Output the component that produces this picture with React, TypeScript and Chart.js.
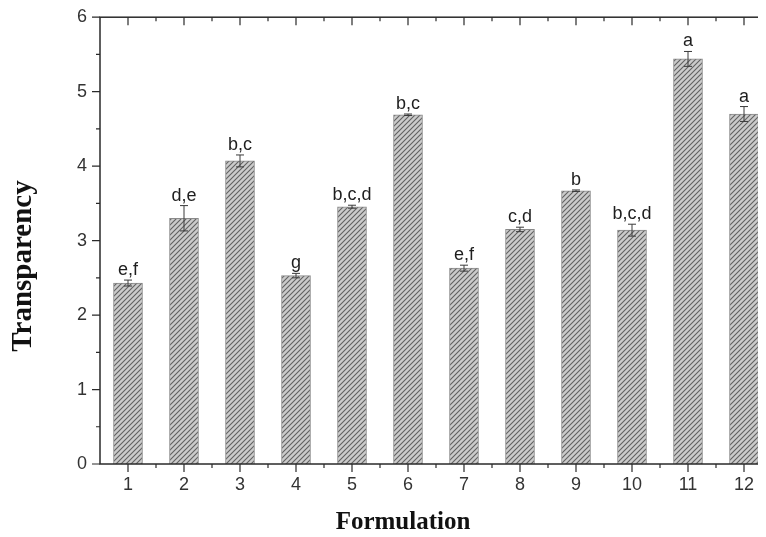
import React, { useEffect, useRef } from 'react';
import { Chart, registerables } from 'chart.js';

Chart.register(...registerables);

const categories = ['1', '2', '3', '4', '5', '6', '7', '8', '9', '10', '11', '12'];
const transparency = [2.43, 3.3, 4.07, 2.53, 3.455, 4.69, 2.63, 3.15, 3.67, 3.14, 5.44, 4.7];
const errors = [0.04, 0.17, 0.08, 0.03, 0.02, 0.01, 0.04, 0.03, 0.01, 0.08, 0.1, 0.1];
const letters = ['e,f', 'd,e', 'b,c', 'g', 'b,c,d', 'b,c', 'e,f', 'c,d', 'b', 'b,c,d', 'a', 'a'];
const yMajorTicks = [0, 1, 2, 3, 4, 5, 6];
const yMinorTicks = [0.5, 1.5, 2.5, 3.5, 4.5, 5.5];

const AXIS_COLOR = '#2a2a2a';
const SANS = '"Liberation Sans", Arial, sans-serif';
const SERIF = '"Liberation Serif", "Times New Roman", serif';
const SHIFT = 11;

function makeHatch(): CanvasPattern | string {
  const s = 5;
  const c = document.createElement('canvas');
  c.width = s;
  c.height = s;
  const g = c.getContext('2d');
  if (!g) return '#c8c8c8';
  g.fillStyle = '#cbcbcb';
  g.fillRect(0, 0, s, s);
  g.strokeStyle = '#606060';
  g.lineWidth = 1.1;
  g.beginPath();
  g.moveTo(0, s);
  g.lineTo(s, 0);
  g.moveTo(-s, s);
  g.lineTo(s, -s);
  g.moveTo(0, 2 * s);
  g.lineTo(2 * s, 0);
  g.stroke();
  return g.createPattern(c, 'repeat') || '#c8c8c8';
}

const decorPlugin = {
  id: 'decor',
  afterDatasetsDraw(chart: any) {
    const ctx = chart.ctx as CanvasRenderingContext2D;
    const xs = chart.scales.x;
    const ys = chart.scales.y;
    ctx.save();
    ctx.strokeStyle = '#3a3a3a';
    ctx.lineWidth = 1;
    transparency.forEach((v, i) => {
      const x = xs.getPixelForValue(i);
      const yTop = ys.getPixelForValue(v + errors[i]);
      const yBot = ys.getPixelForValue(v - errors[i]);
      ctx.beginPath();
      ctx.moveTo(x, yTop);
      ctx.lineTo(x, yBot);
      ctx.moveTo(x - 4, yTop);
      ctx.lineTo(x + 4, yTop);
      ctx.moveTo(x - 4, yBot);
      ctx.lineTo(x + 4, yBot);
      ctx.stroke();
    });
    ctx.fillStyle = '#1e1e1e';
    ctx.font = `18px ${SANS}`;
    ctx.textAlign = 'center';
    ctx.textBaseline = 'alphabetic';
    transparency.forEach((v, i) => {
      const x = xs.getPixelForValue(i);
      const yTop = ys.getPixelForValue(v + errors[i]);
      ctx.fillText(letters[i], x, yTop - 5);
    });
    ctx.restore();
  },
  afterDraw(chart: any) {
    const ctx = chart.ctx as CanvasRenderingContext2D;
    const xs = chart.scales.x;
    const ys = chart.scales.y;
    const { left, right, top, bottom } = chart.chartArea;
    ctx.save();
    ctx.strokeStyle = AXIS_COLOR;
    ctx.lineWidth = 1.5;
    ctx.strokeRect(left, top, right - left, bottom - top);
    ctx.lineWidth = 1.2;
    ctx.beginPath();
    const MAJ = 8;
    const MIN = 4;
    yMajorTicks.forEach((t) => {
      const y = ys.getPixelForValue(t);
      ctx.moveTo(left - MAJ, y);
      ctx.lineTo(left, y);
      ctx.moveTo(right, y);
      ctx.lineTo(right - MAJ - 2, y);
    });
    yMinorTicks.forEach((t) => {
      const y = ys.getPixelForValue(t);
      ctx.moveTo(left - MIN, y);
      ctx.lineTo(left, y);
      ctx.moveTo(right, y);
      ctx.lineTo(right - MIN, y);
    });
    categories.forEach((_, i) => {
      const x = xs.getPixelForValue(i);
      ctx.moveTo(x, bottom);
      ctx.lineTo(x, bottom + MAJ);
      ctx.moveTo(x, top);
      ctx.lineTo(x, top + MAJ);
      if (i < categories.length - 1) {
        const xm = (x + xs.getPixelForValue(i + 1)) / 2;
        ctx.moveTo(xm, bottom);
        ctx.lineTo(xm, bottom + MIN);
        ctx.moveTo(xm, top);
        ctx.lineTo(xm, top + MIN);
      }
    });
    ctx.stroke();

    ctx.fillStyle = '#111111';
    ctx.textAlign = 'center';
    ctx.textBaseline = 'middle';
    ctx.font = `bold 25px ${SERIF}`;
    ctx.fillText('Formulation', 395, 515 + SHIFT);
    ctx.translate(16, 258 + SHIFT);
    ctx.rotate(-Math.PI / 2);
    ctx.font = `bold 29px ${SERIF}`;
    ctx.fillText('Transparency', 0, 0);
    ctx.restore();
  },
};

export default function App() {
  const ref = useRef<HTMLCanvasElement | null>(null);

  useEffect(() => {
    if (!ref.current) return;
    const hatch = makeHatch();
    const chart = new Chart(ref.current, {
      type: 'bar',
      data: {
        labels: categories,
        datasets: [
          {
            label: 'Transparency',
            data: transparency,
            backgroundColor: hatch as any,
            borderColor: '#8a8a8a',
            borderWidth: 1,
            barThickness: 29,
          },
        ],
      },
      options: {
        responsive: false,
        animation: false,
        devicePixelRatio: 1,
        layout: { padding: { left: 0, right: 16, top: 8, bottom: 0 } },
        plugins: {
          legend: { display: false },
          tooltip: { enabled: false },
          title: { display: false },
        },
        scales: {
          x: {
            type: 'category',
            offset: true,
            grid: { display: false, drawTicks: false },
            border: { display: false },
            ticks: {
              padding: 10,
              color: '#333333',
              maxRotation: 0,
              autoSkip: false,
              font: { family: SANS, size: 18, lineHeight: 1.2 },
            },
            afterFit: (s: any) => {
              s.height = 73;
            },
          },
          y: {
            type: 'linear',
            min: 0,
            max: 6,
            grid: { display: false, drawTicks: false },
            border: { display: false },
            ticks: {
              stepSize: 1,
              padding: 13,
              color: '#333333',
              font: { family: SANS, size: 18, lineHeight: 0.8 },
            },
            afterFit: (s: any) => {
              s.width = 92;
            },
          },
        },
      },
      plugins: [decorPlugin],
    });
    return () => chart.destroy();
  }, []);

  return (
    <div style={{ width: 758, height: 529, overflow: 'hidden' }}>
      <canvas
        ref={ref}
        width={780}
        height={529 + SHIFT}
        style={{ display: 'block', marginTop: -SHIFT }}
      />
    </div>
  );
}
